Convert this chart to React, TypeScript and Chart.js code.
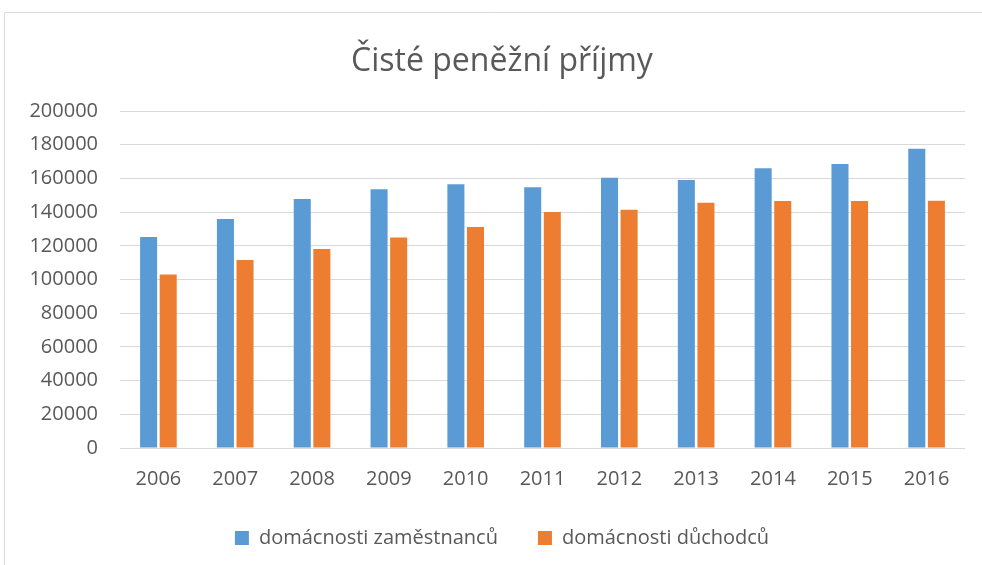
import React, { useEffect, useRef } from "react";
import { Chart, registerables } from "chart.js";

Chart.register(...registerables);

const categories = ["2006", "2007", "2008", "2009", "2010", "2011", "2012", "2013", "2014", "2015", "2016"];
const zamestnanci = [125200, 135900, 147800, 153500, 156500, 154700, 160400, 159100, 166000, 168600, 177600];
const duchodci = [102900, 111600, 118100, 125000, 131200, 140000, 141400, 145600, 146600, 146600, 146800];
const seriesNames = ["domácnosti zaměstnanců", "domácnosti důchodců"];
const titleText = "Čisté peněžní příjmy";

const framePlugin = {
  id: "frame",
  beforeDraw(chart: any) {
    const ctx = chart.ctx;
    ctx.save();
    ctx.strokeStyle = "#D9D9D9";
    ctx.lineWidth = 1;
    ctx.beginPath();
    ctx.moveTo(4.5, chart.height + 5);
    ctx.lineTo(4.5, 12.5);
    ctx.lineTo(chart.width + 5, 12.5);
    ctx.stroke();
    ctx.restore();
  },
};

export default function App() {
  const ref = useRef<HTMLCanvasElement | null>(null);
  useEffect(() => {
    if (!ref.current) return;
    const font = "'Open Sans', sans-serif";
    const chart = new Chart(ref.current, {
      type: "bar",
      data: {
        labels: categories,
        datasets: [
          { label: seriesNames[0], data: zamestnanci, backgroundColor: "#5B9BD5", categoryPercentage: 0.51, barPercentage: 0.87 },
          { label: seriesNames[1], data: duchodci, backgroundColor: "#ED7D31", categoryPercentage: 0.51, barPercentage: 0.87 },
        ],
      },
      options: {
        responsive: false,
        animation: false,
        layout: { padding: { left: 28, right: 6, top: 14, bottom: 7 } },
        plugins: {
          title: {
            display: true,
            text: titleText,
            color: "#595959",
            font: { family: font, size: 32, weight: "normal", lineHeight: 1.2 },
            padding: { top: 29, bottom: 29.6 },
          },
          legend: {
            position: "bottom",
            labels: {
              color: "#595959",
              font: { family: font, size: 20 },
              boxWidth: 14,
              boxHeight: 14,
              padding: 40,
            },
          },
          tooltip: { enabled: false },
        },
        scales: {
          x: {
            grid: { display: false, drawTicks: false },
            border: { display: false },
            ticks: { color: "#595959", font: { family: font, size: 20 }, padding: 19 },
            afterFit(scale: any) { scale.height = 40; },
          },
          y: {
            min: 0,
            max: 200000,
            ticks: {
              stepSize: 20000,
              color: "#595959",
              font: { family: font, size: 20 },
              padding: 22,
              callback: (v: any) => String(v),
            },
            grid: { color: "#D9D9D9", lineWidth: 1, drawTicks: false },
            border: { display: false },
            afterFit(scale: any) { scale.width = 92; },
          },
          yRight: {
            position: "right",
            min: 0,
            max: 200000,
            ticks: { display: false },
            grid: { display: false, drawTicks: false },
            border: { display: false },
            afterFit(scale: any) { scale.width = 11; },
          },
        },
      },
      plugins: [framePlugin],
    });
    return () => chart.destroy();
  }, []);
  return (
    <div style={{ position: "fixed", left: 0, top: 0, width: 982, height: 565, background: "#fff" }}>
      <canvas ref={ref} width={982} height={565} />
    </div>
  );
}
